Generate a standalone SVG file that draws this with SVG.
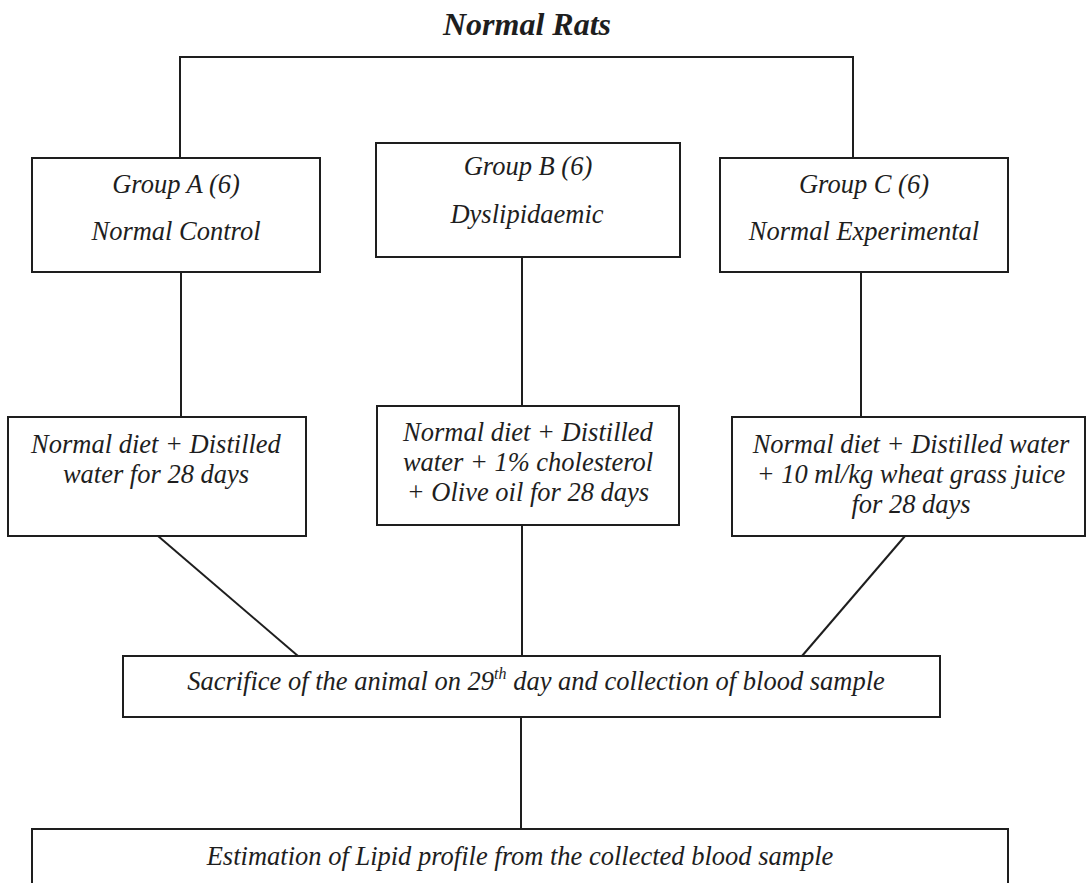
<svg xmlns="http://www.w3.org/2000/svg" width="1086" height="883" viewBox="0 0 1086 883">
<style>
.box{fill:#fff;stroke:#1e1e1e;stroke-width:2}
.t{font-family:"Liberation Serif","Times New Roman",serif;font-style:italic;font-size:26.5px;fill:#1e1e1e;text-anchor:middle}
.title{font-family:"Liberation Serif","Times New Roman",serif;font-style:italic;font-weight:bold;font-size:32px;fill:#1e1e1e;text-anchor:middle}
.c{fill:none;stroke:#1e1e1e;stroke-width:2}
</style>
<rect width="1086" height="883" fill="#fff"/>
<text class="title" x="527" y="35">Normal Rats</text>
<g id="connectors">
<polyline class="c" points="180,158 180,57 853,57 853,158"/>
<line class="c" x1="181" y1="272" x2="181" y2="417"/>
<line class="c" x1="522" y1="257" x2="522" y2="406"/>
<line class="c" x1="861" y1="272" x2="861" y2="417"/>
<line class="c" x1="158" y1="536" x2="298" y2="656"/>
<line class="c" x1="522" y1="525" x2="522" y2="656"/>
<line class="c" x1="905" y1="536" x2="802" y2="656"/>
<line class="c" x1="521" y1="717" x2="521" y2="829"/>
</g>
<g id="groupA">
<rect class="box" x="32" y="158" width="288" height="114"/>
<text class="t" x="176" y="193">Group A (6)</text>
<text class="t" x="176" y="240">Normal Control</text>
</g>
<g id="groupB">
<rect class="box" x="376" y="143" width="304" height="114"/>
<text class="t" x="528" y="175">Group B (6)</text>
<text class="t" x="527" y="223">Dyslipidaemic</text>
</g>
<g id="groupC">
<rect class="box" x="720" y="158" width="288" height="114"/>
<text class="t" x="864" y="193">Group C (6)</text>
<text class="t" x="864" y="240">Normal Experimental</text>
</g>
<g id="dietA">
<rect class="box" x="8" y="417" width="298" height="119"/>
<text class="t" x="156" y="453">Normal diet + Distilled</text>
<text class="t" x="156" y="483">water for 28 days</text>
</g>
<g id="dietB">
<rect class="box" x="377" y="406" width="302" height="119"/>
<text class="t" x="528" y="441">Normal diet + Distilled</text>
<text class="t" x="528" y="471">water + 1% cholesterol</text>
<text class="t" x="528" y="501">+ Olive oil for 28 days</text>
</g>
<g id="dietC">
<rect class="box" x="732" y="417" width="353" height="119"/>
<text class="t" x="911" y="453">Normal diet + Distilled water</text>
<text class="t" x="911" y="483">+ 10 ml/kg wheat grass juice</text>
<text class="t" x="911" y="513">for 28 days</text>
</g>
<g id="sacrifice">
<rect class="box" x="123" y="656" width="817" height="61"/>
<text class="t" x="536" y="690">Sacrifice of the animal on 29<tspan font-size="16" dy="-11">th</tspan><tspan dy="11"> day and collection of blood sample</tspan></text>
</g>
<g id="estimation">
<rect class="box" x="32" y="829" width="976" height="70"/>
<text class="t" x="520" y="865">Estimation of Lipid profile from the collected blood sample</text>
</g>
</svg>
